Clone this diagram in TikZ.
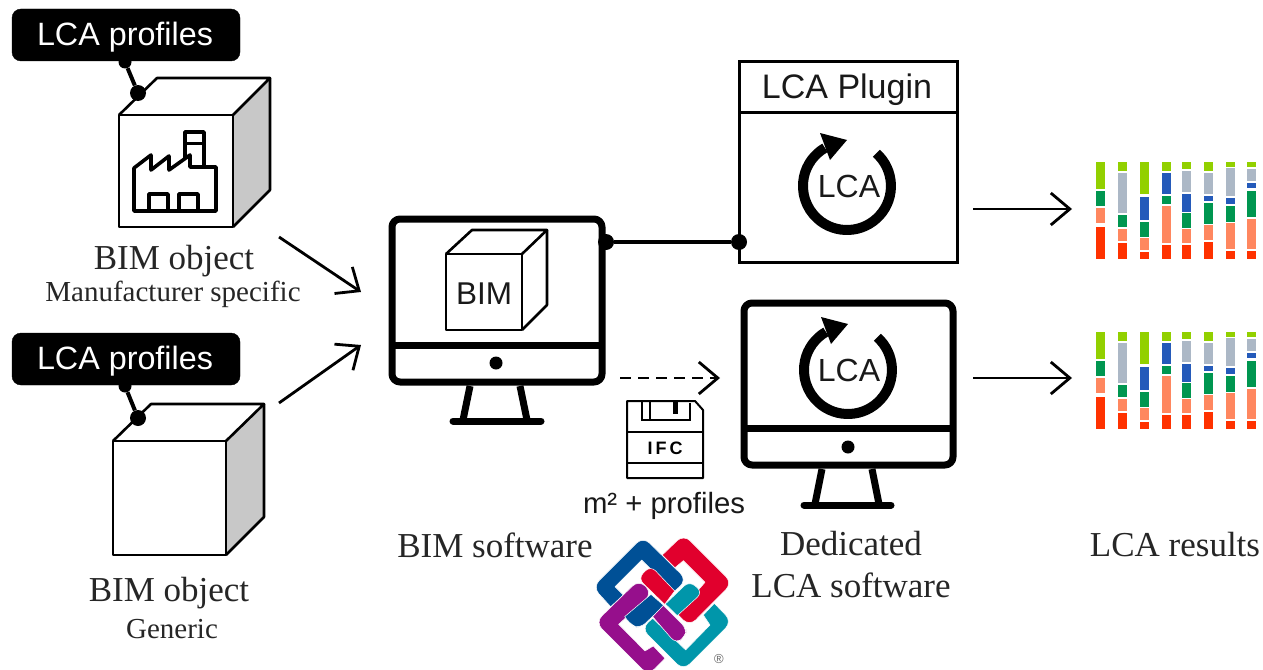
\documentclass[tikz,border=0pt]{standalone}
\usepackage{fontspec}
\setmainfont{Liberation Serif}
\newfontfamily\sansf{Liberation Sans}
\usetikzlibrary{arrows.meta}
\definecolor{barlime}{RGB}{146,208,0}
\definecolor{bargrey}{RGB}{172,184,198}
\definecolor{barblue}{RGB}{36,90,186}
\definecolor{bargreen}{RGB}{0,150,80}
\definecolor{barsalmon}{RGB}{255,135,95}
\definecolor{barred}{RGB}{255,50,0}
\definecolor{cubegrey}{RGB}{200,200,200}
\definecolor{ifcblue}{RGB}{0,80,150}
\definecolor{ifcred}{RGB}{225,0,45}
\definecolor{ifcpurple}{RGB}{150,15,140}
\definecolor{ifcteal}{RGB}{0,150,170}
\tikzset{
  x=1pt,y=-1pt,
  serifL/.style={font=\fontsize{35}{35}\selectfont,anchor=base,inner sep=0pt,text=black!85},
  serifS/.style={font=\fontsize{29}{29}\selectfont,anchor=base,inner sep=0pt,text=black!85},
  sansL/.style={font=\sansf\fontsize{34}{34}\selectfont,anchor=base,inner sep=0pt,text=black!90},
  tagbox/.style={fill=black,draw=black,rounded corners=9pt,minimum width=228pt,minimum height=52pt,inner sep=0pt},
  tagtext/.style={font=\sansf\fontsize{32.3}{32.3}\selectfont,anchor=base,inner sep=0pt,text=white},
  dotnode/.style={circle,fill=black,draw=none,minimum size=16pt,inner sep=0pt},
  smalldot/.style={circle,fill=black,draw=none,minimum size=13pt,inner sep=0pt},
  cubeline/.style={line width=2.6pt,draw=black,line join=round},
  factoryline/.style={line width=3.6pt,draw=black,line join=round},
  monitorline/.style={line width=7pt,draw=black,line join=round,rounded corners=8pt},
  standline/.style={line width=7pt,draw=black,line cap=round},
  flowline/.style={line width=2.8pt,draw=black,-{Straight Barb[length=19pt,width=32pt,line width=2.8pt]}},
  ifcfill/.style={draw=white,line width=0.5pt,line join=round},
}
\newcommand{\lcaring}[2]{%
  \draw[line width=10pt,draw=black] (#1,#2) ++(29.4,-32.7) arc[start angle=48,end angle=-240,radius=44pt];
  \fill[black] (#1,#2) ++(0,-46) -- ++(-27,-7) -- ++(10,27) -- cycle;
}
\newcommand{\barrun}[3]{%
  \foreach \c/\t/\b in {#3}{
    \fill[\c] (#1,150+#2+\t/3) rectangle (#1+9,150+#2+\b/3);
  }
}
\newcommand{\barset}[1]{%
  \barrun{1096}{#1}{barlime/35/118,bargreen/122/168,barsalmon/175/220,barred/230/328}
  \barrun{1117.5}{#1}{barlime/35/62,bargrey/68/190,bargreen/195/232,barsalmon/237/272,barred/280/328}
  \barrun{1140}{#1}{barlime/35/132,barblue/140/210,bargreen/217/260,barsalmon/265/300,barred/305/328}
  \barrun{1162}{#1}{barlime/35/62,barblue/68/132,bargreen/137/162,barsalmon/168/278,barred/285/328}
  \barrun{1182}{#1}{barlime/35/56,bargrey/62/125,barblue/131/185,bargreen/190/233,barsalmon/238/280,barred/286/328}
  \barrun{1204}{#1}{barlime/35/62,bargrey/68/132,barblue/137/152,bargreen/158/222,barsalmon/226/270,barred/276/328}
  \barrun{1226}{#1}{barlime/35/50,bargrey/54/137,barblue/145/162,bargreen/168/216,barsalmon/220/297,barred/304/328}
  \barrun{1247}{#1}{barlime/35/52,bargrey/58/92,barblue/98/114,bargreen/122/202,barsalmon/208/297,barred/304/328}
}
\begin{document}
\begin{tikzpicture}
\useasboundingbox (0,0) rectangle (1263,669);
\fill[white] (0,0) rectangle (1263,669);

% --- top cube
\fill[cubegrey] (233,115) -- (270,78) -- (270,190) -- (233,227) -- cycle;
\draw[cubeline] (119,115) rectangle (233,227);
\draw[cubeline] (119,115) -- (157,78) -- (270,78) -- (233,115);
\draw[cubeline] (270,78) -- (270,190) -- (233,227);
% factory
\draw[factoryline] (134,211) -- (134,168) -- (151,155) -- (151,170) -- (169,156) -- (169,170) -- (190,155) -- (190,167) -- (216,167) -- (216,211) -- cycle;
\draw[factoryline] (185,158) -- (185,132) -- (204,132) -- (204,167);
\draw[line width=3pt] (185,143) -- (204,143);
\draw[factoryline] (149,211) -- (149,194) -- (168,194) -- (168,211);
\draw[factoryline] (179,211) -- (179,194) -- (198,194) -- (198,211);

% --- lower cube
\fill[cubegrey] (226,441) -- (264,404) -- (264,517) -- (226,555) -- cycle;
\draw[cubeline] (113,441) rectangle (226,555);
\draw[cubeline] (113,441) -- (151,404) -- (264,404) -- (226,441);
\draw[cubeline] (264,404) -- (264,517) -- (226,555);

% --- tags
\node[tagbox] (tagA) at (126,35) {};
\node[tagtext] (tagAt) at (125,46) {LCA profiles};
\node[smalldot] (tagAd) at (125,62) {};
\node[dotnode] (cubeAd) at (138,93) {};
\draw[line width=4pt] (tagAd) -- (cubeAd);
\node[tagbox] (tagB) at (126,359) {};
\node[tagtext] (tagBt) at (125,369) {LCA profiles};
\node[smalldot] (tagBd) at (125,386) {};
\node[dotnode] (cubeBd) at (138,418) {};
\draw[line width=4pt] (tagBd) -- (cubeBd);

% --- labels
\node[serifL] (lA) at (174,269) {BIM object};
\node[serifS] (lAs) at (173,301) {Manufacturer specific};
\node[serifL] (lB) at (169,601) {BIM object};
\node[serifS] (lBs) at (172,638) {Generic};
\node[serifL] (lC) at (495,557) {BIM software};
\node[serifL] (lD) at (851,555) {Dedicated};
\node[serifL] (lE) at (851,597) {LCA software};
\node[serifL] (lF) at (1175,556) {LCA results};

% --- BIM monitor
\draw[monitorline] (392,219) rectangle (602,382);
\draw[line width=7pt] (392,345) -- (602,345);
\node[smalldot] (monAd) at (496,363) {};
\draw[standline,line cap=butt] (470,386) -- (463,420);
\draw[standline,line cap=butt] (520,386) -- (527,420);
\draw[standline] (453,421) -- (541,421);
\draw[cubeline] (446,254) rectangle (522,330);
\draw[cubeline] (446,254) -- (472,230) -- (547,230) -- (522,254);
\draw[cubeline] (547,230) -- (547,305) -- (522,330);
\node[sansL,font=\sansf\fontsize{31.5}{31.5}\selectfont] (bimt) at (484,304) {BIM};

% --- plugin box
\draw[line width=3pt] (739,62) rectangle (957,262);
\draw[line width=3pt] (739,112) -- (957,112);
\node[sansL] (plugt) at (847,99) {LCA Plugin};
\lcaring{847}{186}
\node[sansL,font=\sansf\fontsize{32}{32}\selectfont] (lcaA) at (849,197) {LCA};
\node[dotnode] (monR) at (606,242) {};
\node[dotnode] (plugL) at (739,242) {};
\draw[line width=3.5pt] (monR) -- (plugL);

% --- LCA monitor
\draw[monitorline] (744,303) rectangle (953,465);
\draw[line width=7pt] (744,428) -- (953,428);
\node[smalldot] (monBd) at (848,447) {};
\draw[standline,line cap=butt] (822,469) -- (815,504);
\draw[standline,line cap=butt] (872,469) -- (879,504);
\draw[standline] (804,505) -- (891,505);
\lcaring{848}{370}
\node[sansL,font=\sansf\fontsize{32}{32}\selectfont] (lcaB) at (849,381) {LCA};

% --- floppy
\draw[line width=2pt,line join=round] (627,401) -- (695,401) -- (703,410) -- (703,478) -- (627,478) -- cycle;
\draw[line width=2pt] (642,401) -- (642,420) -- (690,420) -- (690,403);
\draw[line width=2pt] (650,401) -- (650,420);
\draw[line width=5pt] (675,402) -- (675,414);
\draw[line width=2pt] (627,432) -- (703,432);
\draw[line width=2pt] (627,463) -- (703,463);
\node[font=\sansf\bfseries\fontsize{18}{18}\selectfont,anchor=base,inner sep=0pt] (ifct) at (665,454) {I\,F\,C};
\node[sansL,font=\sansf\fontsize{29.3}{29.3}\selectfont] (mt) at (664,513) {m² + profiles};

% --- arrows
\coordinate (aS) at (279,237); \coordinate (aE) at (361,292);
\coordinate (bS) at (279,403); \coordinate (bE) at (361,345);
\coordinate (cS) at (973,209); \coordinate (cE) at (1072,209);
\coordinate (dS) at (973,378); \coordinate (dE) at (1072,378);
\coordinate (eS) at (620,378); \coordinate (eE) at (720,378);
\draw[flowline] (aS) -- (aE);
\draw[flowline] (bS) -- (bE);
\draw[flowline] (cS) -- (cE);
\draw[flowline] (dS) -- (dE);
\draw[flowline,dash pattern=on 11pt off 7pt] (eS) -- (eE);

% --- bars
\barset{0}
\barset{170}

% --- IFC logo
\begin{scope}[shift={(590,535)},x=0.3333pt,y=-0.3333pt]
\fill[ifcblue,ifcfill] (100,180) -- (62,215) [rounded corners=9pt] -- (8,156) -- (159,5) -- (291,135) [sharp corners] -- (252,170) -- (155,75) -- (75,155) -- cycle;
\fill[ifcred,ifcfill] (255,98) -- (217,60) [rounded corners=9pt] -- (281,-2) -- (427,144) -- (298,274) [sharp corners] -- (262,237) -- (345,142) -- (280,77) -- cycle;
\fill[ifcpurple,ifcfill] (190,333) -- (225,370) [rounded corners=9pt] -- (175,421) -- (16,262) -- (147,134) -- (187,175) [sharp corners] -- (86,268) -- (165,348) -- cycle;
\fill[ifcteal,ifcfill] (340,240) -- (373,205) [rounded corners=9pt] -- (426,260) -- (280,406) -- (154,280) [sharp corners] -- (188,250) -- (287,345) -- (360,270) -- cycle;
\fill[ifcred,ifcfill] (224,208) [rounded corners=7pt] -- (144,130) -- (182,92) [sharp corners] -- (254,168) -- cycle;
\fill[ifcteal,ifcfill] (262,242) -- (226,207) [rounded corners=7pt] -- (298,138) -- (338,172) [sharp corners] -- cycle;
\fill[ifcblue,ifcfill] (222,212) -- (183,178) -- (104,245) [rounded corners=7pt] -- (125,272) -- (150,280) [sharp corners] -- cycle;
\fill[ifcpurple,ifcfill] (188,245) -- (220,211) [rounded corners=7pt] -- (291,282) -- (286,304) -- (258,326) [sharp corners] -- cycle;
\end{scope}
\node[font=\sansf\fontsize{13}{13}\selectfont,text=black!60,inner sep=0pt] (regm) at (719,659) {®};
\end{tikzpicture}
\end{document}
